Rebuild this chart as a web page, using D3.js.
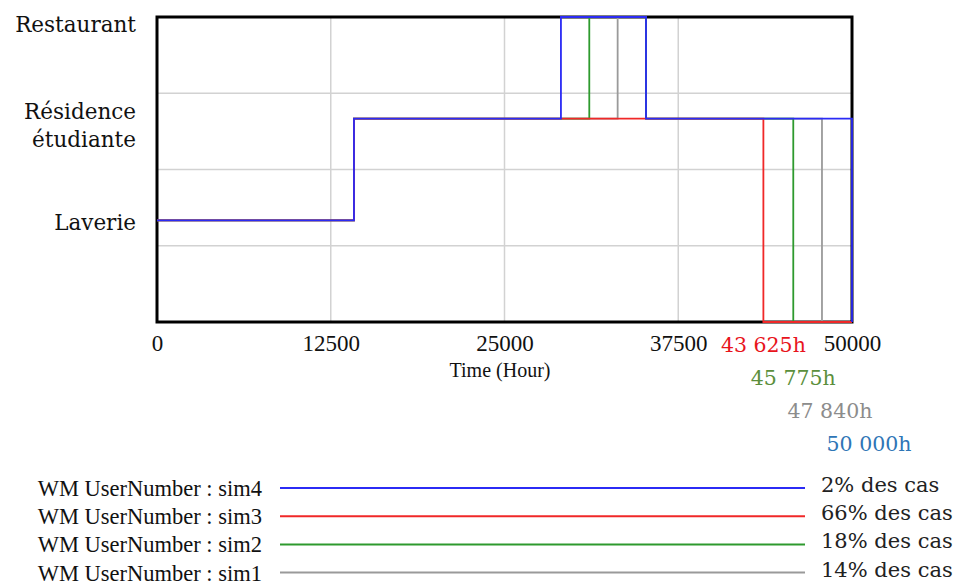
<!DOCTYPE html>
<html><head><meta charset="utf-8">
<script src="https://cdn.jsdelivr.net/npm/d3@7"></script>
<style>html,body{margin:0;padding:0;background:#fff;}svg{display:block;}</style>
</head><body>
<svg id="chart" width="954" height="583"></svg>
<script>
// ---- data ----
const categories = ["Laverie", "Résidence étudiante", "Restaurant"]; // levels 1,2,3
const categoryLevels = [1, 2, 3];
const xTicks = [0, 12500, 25000, 37500, 50000];
const yGrid = [0.75, 1.5, 2.25];

const seriesNames = ["WM UserNumber : sim4", "WM UserNumber : sim3", "WM UserNumber : sim2", "WM UserNumber : sim1"];
const seriesShares = ["2% des cas", "66% des cas", "18% des cas", "14% des cas"];
const seriesColors = ["#2b2bf5", "#f02828", "#2e9a2e", "#9a9a9a"];

const sim4Times  = [0, 14170, 29060, 35180, 50000];
const sim4Levels = [1, 2, 3, 2, 0];
const sim3Times  = [0, 14170, 43625, 50000];
const sim3Levels = [1, 2, 0, 0];
const sim2Times  = [0, 14170, 31100, 35180, 45775, 50000];
const sim2Levels = [1, 2, 3, 2, 0, 0];
const sim1Times  = [0, 14170, 33140, 35180, 47840, 50000];
const sim1Levels = [1, 2, 3, 2, 0, 0];

const endTimes  = [43625, 45775, 47840, 50000];
const endLabels = ["43 625h", "45 775h", "47 840h", "50 000h"];
const endColors = ["#e8141c", "#5b8f3c", "#8c8c8c", "#2e75b6"];

// ---- layout ----
const svg = d3.select("#chart");
const x = d3.scaleLinear().domain([0, 50000]).range([157, 852]);
const y = d3.scaleLinear().domain([0, 3]).range([322, 17]);

// grid
svg.append("g").selectAll("line").data(xTicks.slice(1, -1)).join("line")
  .attr("x1", d => x(d)).attr("x2", d => x(d)).attr("y1", y(0)).attr("y2", y(3))
  .attr("stroke", "#d2d2d2").attr("stroke-width", 1.5);
svg.append("g").selectAll("line").data(yGrid).join("line")
  .attr("x1", x(0)).attr("x2", x(50000)).attr("y1", d => y(d)).attr("y2", d => y(d))
  .attr("stroke", "#d2d2d2").attr("stroke-width", 1.5);

// border
svg.append("rect").attr("x", x(0)).attr("y", y(3))
  .attr("width", x(50000) - x(0)).attr("height", y(0) - y(3))
  .attr("fill", "none").attr("stroke", "#000").attr("stroke-width", 3);

// series (bottom to top: sim1, sim2, sim3, sim4)
const seriesData = [
  d3.zip(sim4Times, sim4Levels),
  d3.zip(sim3Times, sim3Levels),
  d3.zip(sim2Times, sim2Levels),
  d3.zip(sim1Times, sim1Levels)
];
const line = d3.line().x(d => x(d[0])).y(d => y(d[1])).curve(d3.curveStepAfter);
[3, 2, 1, 0].forEach(i => {
  svg.append("path").attr("d", line(seriesData[i]))
    .attr("fill", "none").attr("stroke", seriesColors[i]).attr("stroke-width", 1.8);
});

// x axis labels
const xAxis = d3.axisBottom(x).tickValues(xTicks).tickSize(0).tickFormat(d3.format("d"));
const gx = svg.append("g").attr("transform", `translate(0,${y(0)})`).call(xAxis);
gx.select(".domain").remove();
gx.selectAll("text").attr("y", 29).attr("dy", null)
  .attr("font-family", "Liberation Serif").attr("font-size", 23).attr("fill", "#111");

svg.append("text").attr("x", 500).attr("y", 377).attr("text-anchor", "middle")
  .attr("font-family", "Liberation Serif").attr("font-size", 20).attr("fill", "#111")
  .text("Time (Hour)");

// y labels
const yLabelDy = [9.5, 0.8, 15];
const gy = svg.append("g");
categories.forEach((c, i) => {
  const parts = c === "Résidence étudiante" ? ["Résidence", "étudiante"] : [c];
  const t = gy.append("text").attr("text-anchor", "end")
    .attr("font-family", "DejaVu Serif").attr("font-size", 21.5).attr("fill", "#111");
  parts.forEach((p, k) => {
    t.append("tspan").attr("x", 136).attr("y", y(categoryLevels[i]) + yLabelDy[i] + k * 28).text(p);
  });
});

// end-time annotations
const annDx = [0, 0, 8, 17];
endTimes.forEach((t, i) => {
  svg.append("text").attr("x", x(t) + annDx[i]).attr("y", 352 + i * 33)
    .attr("text-anchor", "middle").attr("font-family", "DejaVu Serif").attr("font-size", 20.5)
    .attr("fill", endColors[i]).text(endLabels[i]);
});

// legend
seriesNames.forEach((n, i) => {
  const ly = 488 + i * 28.2;
  svg.append("text").attr("x", 262).attr("y", ly + 8).attr("text-anchor", "end")
    .attr("font-family", "Liberation Serif").attr("font-size", 22.5).attr("fill", "#111").text(n);
  svg.append("line").attr("x1", 280).attr("x2", 805).attr("y1", ly).attr("y2", ly)
    .attr("stroke", seriesColors[i]).attr("stroke-width", 2);
  svg.append("text").attr("x", 821).attr("y", ly + 4).attr("font-family", "DejaVu Serif")
    .attr("font-size", 21).attr("fill", "#222").text(seriesShares[i]);
});
</script>
</body></html>
